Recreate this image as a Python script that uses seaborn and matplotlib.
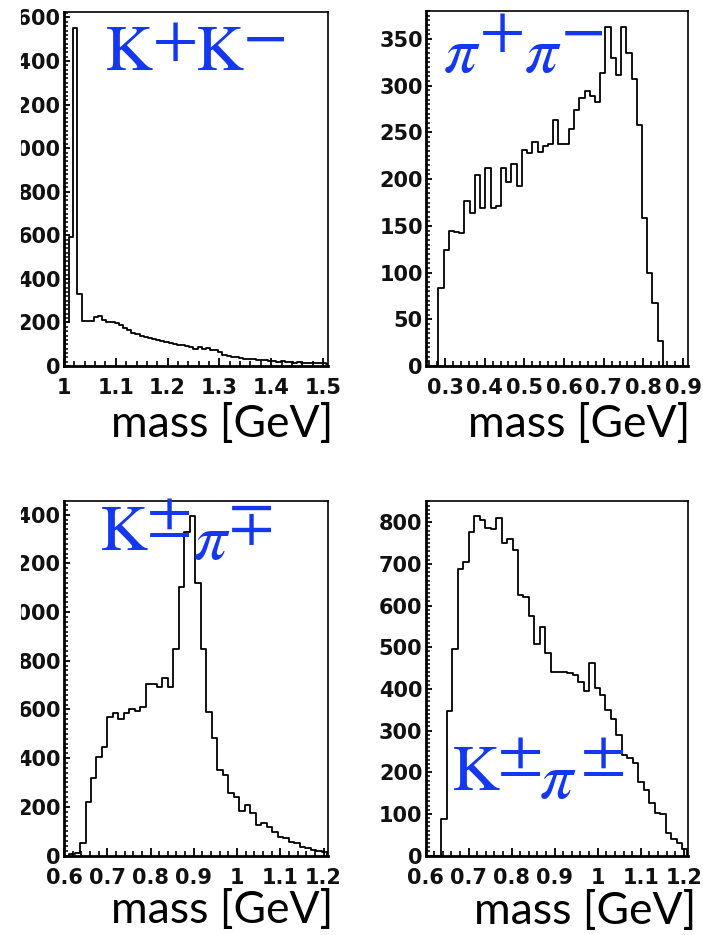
import numpy as np
import pandas as pd
import matplotlib
matplotlib.use("Agg")
import matplotlib.pyplot as plt
import seaborn as sns
from matplotlib.ticker import FixedLocator, FixedFormatter
from matplotlib.transforms import Bbox, TransformedBbox

# ---------------- data ----------------
kk_start, kk_width = 0.994, 0.008
kk_counts = [0, 200, 590, 1550, 330,
             205, 208, 205, 225, 228,
             212, 200, 200, 198, 190,
             175, 165, 152, 145, 140,
             132, 128, 122, 118, 115,
             110, 104, 100, 98, 96,
             92, 88, 78, 88, 80,
             82, 74, 72, 62, 52,
             48, 43, 42, 35, 32,
             31, 30, 28, 28, 27,
             23, 24, 20, 21, 18,
             17, 16, 17, 15, 15,
             14, 15, 12, 12, 10, 0]

pipi_start, pipi_width = 0.25676, 0.01317
pipi_counts = [0, 0, 83, 124, 145, 143, 142, 177, 164, 204, 169, 212, 169, 171,
               212, 197, 216, 193, 231, 228, 240, 229, 235, 238, 263, 238, 238,
               254, 274, 287, 294, 289, 283, 314, 363, 330, 312, 363, 335, 307,
               258, 158, 100, 67, 27, 0, 0, 0, 0]

kpi_start, kpi_width = 0.5989, 0.0127
kpi_os_counts = [0, 8, 12,
                 50, 221, 317, 406, 447, 567, 584, 559, 584, 600,
                 594, 611, 704, 704, 693, 728, 693, 847, 1101, 1330,
                 1394, 1118, 847, 591, 481, 351, 331, 258, 241, 184,
                 207, 173, 125, 132, 118, 98, 75, 71, 57, 50,
                 36, 30, 23, 20, 15, 0]
kpi_ss_counts = [0, 0, 0,
                 87, 348, 495, 687, 705, 777, 815, 806, 786, 783,
                 810, 751, 759, 733, 625, 620, 575, 508, 548, 485,
                 441, 441, 440, 437, 433, 417, 395, 461, 401, 385,
                 349, 327, 289, 241, 233, 221, 177, 157, 125, 103,
                 100, 53, 39, 29, 15, 0]

kk_xticks = [1.0, 1.1, 1.2, 1.3, 1.4, 1.5]
pipi_xticks = [0.3, 0.4, 0.5, 0.6, 0.7, 0.8, 0.9]
kpi_xticks = [0.6, 0.7, 0.8, 0.9, 1.0, 1.1, 1.2]
kk_yticks = [0, 200, 400, 600, 800, 1000, 1200, 1400, 1600]
pipi_yticks = [0, 50, 100, 150, 200, 250, 300, 350]
kpi_os_yticks = [0, 200, 400, 600, 800, 1000, 1200, 1400]
kpi_ss_yticks = [0, 100, 200, 300, 400, 500, 600, 700, 800]

# channel labels: pieces (mathtext, centre x px, centre y px)
label_kk = [(r'$\mathrm{K}$', 129, 51.5), (r'$+$', 173.5, 40),
            (r'$\mathrm{K}$', 220, 51.5), (r'$-$', 264, 37)]
label_pipi = [(r'$\pi$', 462, 54), (r'$+$', 500.5, 31),
              (r'$\pi$', 543, 54), (r'$-$', 582, 31)]
label_kpi_os = [(r'$\mathrm{K}$', 124, 531.5), (r'$\pm$', 167.5, 513),
                (r'$\pi$', 211.7, 541), (r'$\mp$', 250, 521)]
label_kpi_ss = [(r'$\mathrm{K}$', 476, 772.5), (r'$\pm$', 519, 752),
                (r'$\pi$', 557.5, 780), (r'$\pm$', 601.7, 752)]
xlabel_text = "mass [GeV]"

# ---------------- style ----------------
sns.set_style("ticks")
plt.rcParams['font.family'] = ['DejaVu Sans']
plt.rcParams['mathtext.fontset'] = 'stix'

W, H = 703, 935
fig = plt.figure(figsize=(W / 100, H / 100), dpi=100, facecolor='white')

BLUE = '#1438f2'


def add_axes_px(left, top, right, bottom):
    return fig.add_axes([left / W, 1 - bottom / H, (right - left) / W, (bottom - top) / H])


def minor_list(ticks, lo, hi, ndiv):
    step = (ticks[1] - ticks[0]) / ndiv
    start = ticks[0] - step * ndiv * 2
    vals = []
    i = 0
    while True:
        v = start + i * step
        if v > hi + 1e-9:
            break
        if v >= lo - 1e-9:
            vals.append(v)
        i += 1
    return vals


def panel(ax, start, width, counts, xlim, ylim, xticks, yticks, xminor_div=5, yminor_div=10):
    counts = np.asarray(counts, dtype=float)
    edges = start + width * np.arange(len(counts) + 1)
    df = pd.DataFrame({"mass": edges[:-1] + width / 2, "n": counts})
    sns.histplot(data=df, x="mass", weights="n", bins=list(edges), element='step',
                 fill=False, color='black', linewidth=1.3, ax=ax)
    ax.set_xlim(*xlim)
    ax.set_ylim(*ylim)
    ax.set_xlabel('')
    ax.set_ylabel('')
    ax.xaxis.set_major_locator(FixedLocator(xticks))
    ax.xaxis.set_major_formatter(FixedFormatter([f"{round(v, 2):g}" for v in xticks]))
    ax.xaxis.set_minor_locator(FixedLocator(minor_list(xticks, xlim[0], xlim[1], xminor_div)))
    ax.yaxis.set_major_locator(FixedLocator(yticks))
    ax.yaxis.set_major_formatter(FixedFormatter([f"{v:d}" for v in yticks]))
    ax.yaxis.set_minor_locator(FixedLocator(minor_list(yticks, ylim[0], ylim[1], yminor_div)))
    ax.tick_params(axis='x', which='major', direction='in', length=6.0, width=1.4,
                   pad=9.0, labelsize=15, colors='#111111')
    ax.tick_params(axis='x', which='minor', direction='in', length=3.5, width=1.4)
    ax.tick_params(axis='y', which='major', direction='in', length=4.2, width=1.4,
                   pad=2.2, labelsize=15, colors='#111111')
    ax.tick_params(axis='y', which='minor', direction='in', length=2.6, width=1.3)
    for lab in ax.get_xticklabels() + ax.get_yticklabels():
        lab.set_fontweight('bold')
    for s in ['left', 'bottom']:
        ax.spines[s].set_linewidth(2.0)
    for s in ['top', 'right']:
        ax.spines[s].set_linewidth(1.2)
    for s in ax.spines.values():
        s.set_color('black')


ax1 = add_axes_px(64, 12, 328, 366)
panel(ax1, kk_start, kk_width, kk_counts, (1.0, 1.5097), (0, 1625), kk_xticks, kk_yticks)

ax2 = add_axes_px(426, 11, 688, 366)
panel(ax2, pipi_start, pipi_width, pipi_counts, (0.252, 0.9126), (0, 380), pipi_xticks, pipi_yticks)

ax3 = add_axes_px(64, 501, 327.5, 855.5)
panel(ax3, kpi_start, kpi_width, kpi_os_counts, (0.6, 1.209), (0, 1456), kpi_xticks, kpi_os_yticks)

ax4 = add_axes_px(425.5, 501, 687.7, 855.5)
panel(ax4, kpi_start, kpi_width, kpi_ss_counts, (0.6, 1.209), (0, 851), kpi_xticks, kpi_ss_yticks)

# the left panels' y labels are cut by the slide crop
clip = TransformedBbox(Bbox([[21 / W, 0], [1, 1]]), fig.transFigure)
for ax in (ax1, ax3):
    for t in ax.yaxis.get_major_ticks():
        t.label1.set_clip_on(True)
        t.label1.set_clip_box(clip)

# blue channel labels (each glyph placed separately: full-size superscripts)
for pieces in (label_kk, label_pipi, label_kpi_os, label_kpi_ss):
    for (txt, x, y) in pieces:
        fig.text(x / W, 1 - y / H, txt, color=BLUE, fontsize=47.5,
                 ha='center', va='center')

# x-axis titles
for (x, y) in [(333.3, 436.7), (690, 436.7), (333.3, 923.3), (696.7, 924)]:
    fig.text(x / W, 1 - y / H, xlabel_text, family=['Lato', 'DejaVu Sans'],
             fontsize=32, color='black', ha='right', va='baseline')

fig.savefig('out.png', dpi=100, facecolor='white')
